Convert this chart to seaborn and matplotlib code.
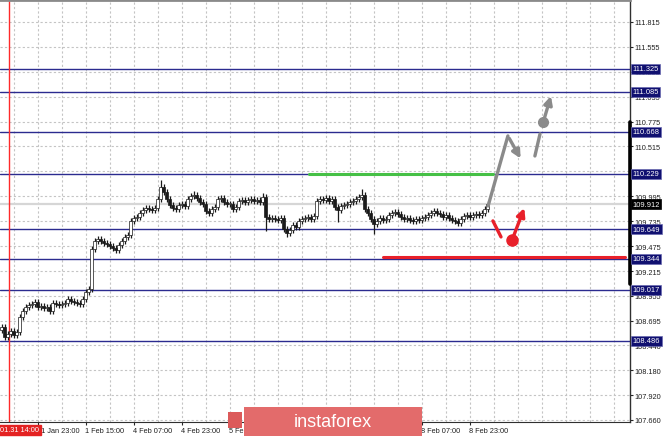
import numpy as np
import pandas as pd
import matplotlib
matplotlib.use("Agg")
import matplotlib.pyplot as plt
import matplotlib.transforms as mtransforms
from matplotlib.patches import Rectangle
import seaborn as sns

# hourly closes (candle index 0 .. 162)
closes = [
    108.631, 108.527, 108.558, 108.590, 108.548, 108.579, 108.736, 108.798, 108.840, 108.861,
    108.871, 108.892, 108.840, 108.850, 108.830, 108.840, 108.798, 108.881, 108.871, 108.861,
    108.871, 108.881, 108.923, 108.902, 108.892, 108.881, 108.871, 108.923, 108.996, 109.028,
    109.445, 109.529, 109.550, 109.529, 109.508, 109.498, 109.477, 109.456, 109.435, 109.488,
    109.529, 109.571, 109.591, 109.738, 109.769, 109.780, 109.821, 109.852, 109.873, 109.863,
    109.852, 109.873, 109.967, 110.092, 110.040, 109.967, 109.905, 109.873, 109.863, 109.905,
    109.915, 109.894, 109.967, 109.998, 110.009, 109.977, 109.936, 109.915, 109.842, 109.821,
    109.863, 109.884, 109.967, 109.977, 109.936, 109.915, 109.915, 109.863, 109.884, 109.946,
    109.956, 109.936, 109.956, 109.967, 109.946, 109.956, 109.936, 109.988, 109.780, 109.759,
    109.769, 109.759, 109.748, 109.769, 109.655, 109.613, 109.644, 109.696, 109.675, 109.738,
    109.759, 109.769, 109.780, 109.759, 109.790, 109.946, 109.967, 109.956, 109.977, 109.946,
    109.967, 109.884, 109.852, 109.894, 109.905, 109.915, 109.936, 109.946, 109.967, 109.988,
    110.009, 109.863, 109.821, 109.759, 109.707, 109.738, 109.769, 109.748, 109.759, 109.800,
    109.821, 109.831, 109.811, 109.780, 109.759, 109.769, 109.748, 109.738, 109.759, 109.748,
    109.769, 109.780, 109.800, 109.821, 109.842, 109.821, 109.811, 109.780, 109.800, 109.769,
    109.748, 109.738, 109.717, 109.759, 109.790, 109.800, 109.780, 109.800, 109.811, 109.800,
    109.821, 109.863, 109.912,
]
first_open = 108.600
spike_high = {53: 110.166, 120: 110.072, 87: 110.030, 64: 110.050, 30: 109.470}
spike_low = {88: 109.633, 95: 109.571, 124: 109.602, 112: 109.727, 1: 108.500, 16: 108.780}

levels = [111.325, 111.085, 110.668, 110.229, 109.649, 109.344, 109.017, 108.486]
last_price = 109.912
green_level = 110.229
red_level = 109.360

y_ticks = [107.660, 107.920, 108.180, 108.440, 108.695, 108.955, 109.215, 109.475,
           109.735, 109.995, 110.255, 110.515, 110.775, 111.035, 111.295, 111.555, 111.815]

x_tick_idx = [12, 28, 44, 60, 76, 92, 108, 124, 140, 156]
x_tick_labels = ["31 Jan 23:00", "1 Feb 15:00", "4 Feb 07:00", "4 Feb 23:00", "5 Feb 15:00",
                 "6 Feb 07:00", "6 Feb 23:00", "7 Feb 15:00", "8 Feb 07:00", "8 Feb 23:00"]

# forecast sketches (candle index, price)
up_path_x = [162.2, 168.8, 173.5]
up_path_y = [109.894, 110.625, 110.364]
up_dash_x = [177.8, 179.5]
up_dash_y = [110.416, 110.646]
up_arrow_x = [180.6, 183.4]
up_arrow_y = [110.771, 111.070]
dn_path_x = [163.8, 166.5]
dn_path_y = [109.738, 109.571]
dn_arrow_x = [170.2, 174.6]
dn_arrow_y = [109.539, 109.900]

# ---------------------------------------------------------------
sns.set_style("white")
plt.rcParams['font.family'] = ['Liberation Sans', 'DejaVu Sans']

opens = [first_open] + closes[:-1]
df = pd.DataFrame({"open": opens, "close": closes})
df["idx"] = np.arange(len(df))
df["high"] = df[["open", "close"]].max(axis=1) + 0.03
df["low"] = df[["open", "close"]].min(axis=1) - 0.03
for k, v in spike_high.items():
    df.loc[k, "high"] = max(df.loc[k, "high"], v)
for k, v in spike_low.items():
    df.loc[k, "low"] = min(df.loc[k, "low"], v)

fig = plt.figure(figsize=(6.65, 4.39), dpi=100)
ax = fig.add_axes([0, 16 / 439, 630 / 665, 422 / 439])
ax.set_xlim(-0.5, 209.5)
ax.set_ylim(107.639, 112.044)

# grid
for gx in np.arange(4, 210, 8):
    ax.axvline(gx, color="#c4c4c4", lw=0.8, ls=(0, (2, 2)), zorder=0)
for gy in y_ticks:
    ax.axhline(gy, color="#c4c4c4", lw=0.8, ls=(0, (2, 2)), zorder=0)

# current price line
ax.axhline(last_price, color="#d6d6d6", lw=1.6, zorder=0.5)

# levels
for lv in levels:
    ax.axhline(lv, color="#2b2b8f", lw=1.0, zorder=1)

ax.axvline(2.5, color="#ff2a2a", lw=1.0, zorder=1)

# candles
ax.vlines(df["idx"], df["low"], df["high"], color="#1a1a1a", lw=0.9, zorder=3)
bull = df[df["close"] >= df["open"]]
bear = df[df["close"] < df["open"]]
ax.bar(bull["idx"], (bull["close"] - bull["open"]).clip(lower=0.006), bottom=bull["open"], width=0.78,
       color="white", edgecolor="#1a1a1a", lw=0.5, zorder=4)
ax.bar(bear["idx"], (bear["open"] - bear["close"]).clip(lower=0.006), bottom=bear["close"], width=0.78,
       color="#1a1a1a", edgecolor="#1a1a1a", lw=0.5, zorder=4)

# horizontal trade zones
ax.plot([102.5, 163.8], [green_level, green_level], color="#46c046", lw=2.2, zorder=5)
ax.plot([127.2, 207.8], [red_level, red_level], color="#e8202a", lw=2.2, zorder=5)

# forecast sketches
gray = "#8a8a8a"
red = "#e8202a"
sns.lineplot(x=up_path_x[:2], y=up_path_y[:2], sort=False, color=gray, lw=2.4, ax=ax, zorder=6)
ax.annotate("", xy=(up_path_x[2], up_path_y[2]), xytext=(up_path_x[1], up_path_y[1]),
            arrowprops=dict(arrowstyle="-|>", color=gray, lw=2.4, mutation_scale=12), zorder=6)
sns.lineplot(x=up_dash_x, y=up_dash_y, sort=False, color=gray, lw=2.4, ax=ax, zorder=6)
ax.plot(up_arrow_x[0], up_arrow_y[0], "o", color=gray, ms=7, zorder=6)
ax.annotate("", xy=(up_arrow_x[1], up_arrow_y[1]), xytext=(up_arrow_x[0], up_arrow_y[0]),
            arrowprops=dict(arrowstyle="-|>", color=gray, lw=2.4, mutation_scale=12), zorder=6)
sns.lineplot(x=dn_path_x, y=dn_path_y, sort=False, color=red, lw=2.4, ax=ax, zorder=6)
ax.plot(dn_arrow_x[0], dn_arrow_y[0], "o", color=red, ms=8, zorder=6)
ax.annotate("", xy=(dn_arrow_x[1], dn_arrow_y[1]), xytext=(dn_arrow_x[0], dn_arrow_y[0]),
            arrowprops=dict(arrowstyle="-|>", color=red, lw=2.4, mutation_scale=12), zorder=6)

# axes
ax.yaxis.tick_right()
ax.set_yticks(y_ticks)
ax.set_yticklabels([f"{v:.3f}" for v in y_ticks], fontsize=5.3, color="#202020")
ax.set_xticks(x_tick_idx)
ax.set_xticklabels(x_tick_labels, fontsize=5.3, color="#202020", ha="left")
ax.tick_params(axis="y", length=2, width=0.8, pad=1.5, right=True, left=False)
ax.tick_params(axis="x", length=2, width=0.8, pad=1.5, bottom=True)
for lbl in ax.get_xticklabels():
    lbl.set_transform(lbl.get_transform() + mtransforms.ScaledTranslation(-1 / 100, 0, fig.dpi_scale_trans))
ax.set_xlabel("")
ax.set_ylabel("")
ax.spines["left"].set_visible(False)
ax.spines["right"].set_color("#303030")
ax.spines["right"].set_linewidth(1.0)
ax.spines["bottom"].set_color("#303030")
ax.spines["bottom"].set_linewidth(0.8)
ax.spines["top"].set_color("#8a8a8a")
ax.spines["top"].set_linewidth(2.0)

# range marker on the price scale
tr = mtransforms.blended_transform_factory(ax.transAxes, ax.transData)
ax.plot([1.0, 1.0], [109.08, 110.77], transform=tr, color="black", lw=2.6, clip_on=False, zorder=7)

# level labels on the price scale
for lv in levels:
    ax.text(1.004, lv, f"{lv:.3f}", transform=tr, fontsize=5.4, color="white", va="center",
            ha="left", clip_on=False, zorder=8,
            bbox=dict(boxstyle="square,pad=0.2", fc="#101070", ec="#6a6ab0", lw=0.5))
ax.text(1.004, last_price, f"{last_price:.3f}", transform=tr, fontsize=5.4, color="white",
        va="center", ha="left", clip_on=False, zorder=8,
        bbox=dict(boxstyle="square,pad=0.2", fc="black", ec="black", lw=0.5))

# time label of the red marker
fig.text(0.5 / 665, 4.5 / 439, "01.31 14:00", fontsize=5.3, color="white", ha="left", va="bottom",
         bbox=dict(boxstyle="square,pad=0.25", fc="#e42222", ec="#e42222"))

# watermark
fig.patches.append(Rectangle((244 / 665, 2 / 439), 178 / 665, 29 / 439, transform=fig.transFigure,
                             fc="#e36b6b", ec="none", zorder=10))
fig.text(333 / 665, 16 / 439, "instaforex", fontsize=13, color="white", ha="center", va="center",
         zorder=11)
fig.patches.append(Rectangle((228 / 665, 10 / 439), 14 / 665, 16 / 439, transform=fig.transFigure,
                             fc="#dc5a5a", ec="none", zorder=10))

fig.savefig("out.png", dpi=100)
